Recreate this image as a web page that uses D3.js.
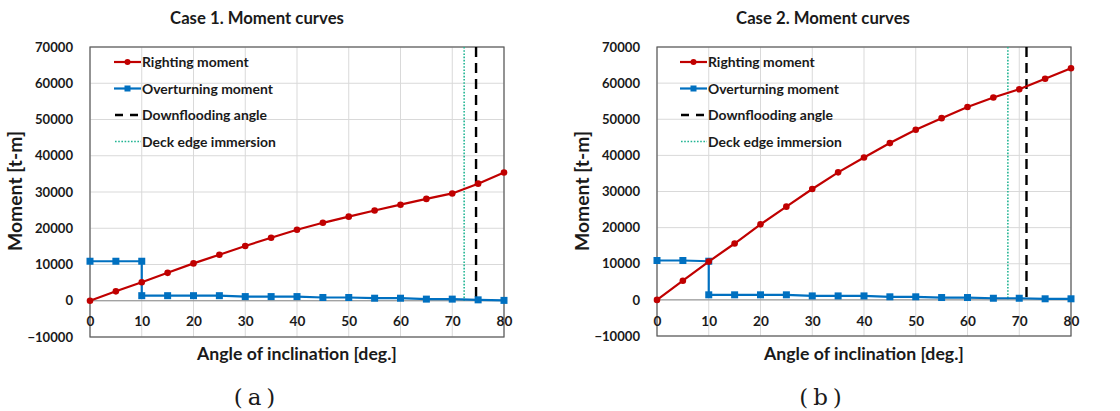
<!DOCTYPE html>
<html><head><meta charset="utf-8">
<script src="https://d3js.org/d3.v7.min.js"></script>
<style>body{margin:0;background:#fff}svg{display:block}</style>
</head><body>
<svg id="c" width="1120" height="411"></svg>
<script>
const angles = [0,5,10,15,20,25,30,35,40,45,50,55,60,65,70,75,80];
const overAngles = [0,5,10,10,15,20,25,30,35,40,45,50,55,60,65,70,75,80];
const righting1 = [0,2600,5100,7700,10300,12700,15100,17400,19600,21500,23200,24900,26500,28100,29600,32300,35400];
const overturning1 = [10900,10900,10900,1400,1400,1400,1400,1150,1150,1150,900,900,700,700,450,450,250,100];
const righting2 = [0,5300,10600,15600,20900,25800,30700,35300,39400,43400,47100,50300,53400,56000,58300,61200,64100];
const overturning2 = [10900,10900,10700,1400,1400,1400,1400,1100,1100,1100,850,850,650,650,450,450,300,300];
const downflooding = [74.6, 71.4];
const deckEdge = [72.3, 67.8];
const titles = ["Case 1. Moment curves","Case 2. Moment curves"];
const subLabels = ["(a)","(b)"];
const legendLabels = ["Righting moment","Overturning moment","Downflooding angle","Deck edge immersion"];
const xTicks = [0,10,20,30,40,50,60,70,80];
const yTicks = [-10000,0,10000,20000,30000,40000,50000,60000,70000];

const RED="#c00000", BLUE="#0070c0", GREEN="#22b593";
const FONT="Lato, 'Open Sans', sans-serif";
const svg = d3.select("#c");

function fitSize(str, family, weight, target, extra){
  const t = svg.append("text").attr("font-family",family).attr("font-weight",weight)
    .attr("font-size",20).attr("letter-spacing",extra||0).text(str);
  const w = t.node().getComputedTextLength();
  t.remove();
  return 20*target/w;
}
const tickSize = Math.min(14, fitSize("70000",FONT,"bold",38));
const legSize = fitSize("Overturning moment",FONT,"bold",131);
const titleSize = fitSize("Case 1. Moment curves",FONT,"bold",174);
const xTitleSize = fitSize("Angle of inclination [deg.]",FONT,"bold",200);
const yTitleSize = fitSize("Moment [t-m]",FONT,"bold",120);

const panels = [
  {left:90, right:504, top:47, bottom:337, ylabX:22, r:righting1, o:overturning1, df:downflooding[0], de:deckEdge[0], title:titles[0], sub:subLabels[0], legX:114, cx:257},
  {left:657, right:1071, top:47, bottom:336, ylabX:589, r:righting2, o:overturning2, df:downflooding[1], de:deckEdge[1], title:titles[1], sub:subLabels[1], legX:680, cx:823}
];

panels.forEach(p=>{
  const g = svg.append("g");
  const x = d3.scaleLinear().domain([0,80]).range([p.left,p.right]);
  const y = d3.scaleLinear().domain([-10000,70000]).range([p.bottom,p.top]);
  g.append("g").selectAll("line").data(yTicks).join("line")
    .attr("x1",p.left).attr("x2",p.right).attr("y1",d=>y(d)).attr("y2",d=>y(d))
    .attr("stroke","#d9d9d9").attr("stroke-width",1);
  g.append("g").selectAll("line").data(xTicks).join("line")
    .attr("x1",d=>x(d)).attr("x2",d=>x(d)).attr("y1",p.top).attr("y2",p.bottom)
    .attr("stroke","#d9d9d9").attr("stroke-width",1);
  g.append("line").attr("x1",p.left).attr("x2",p.right).attr("y1",y(0)).attr("y2",y(0))
    .attr("stroke","#8c8c8c").attr("stroke-width",1);
  g.append("rect").attr("x",p.left).attr("y",p.top).attr("width",p.right-p.left).attr("height",p.bottom-p.top)
    .attr("fill","none").attr("stroke","#595959").attr("stroke-width",1.2);
  const ya = d3.axisLeft(y).tickValues(yTicks).tickSize(0).tickPadding(17).tickFormat(d3.format("d"));
  const yg = g.append("g").attr("transform",`translate(${p.left},0)`).call(ya);
  yg.select(".domain").remove();
  yg.selectAll("text").attr("font-family",FONT).attr("font-weight","bold").attr("font-size",tickSize).attr("fill","#1a1a1a");
  const xa = d3.axisBottom(x).tickValues(xTicks).tickSize(0).tickPadding(16).tickFormat(d3.format("d"));
  const xg = g.append("g").attr("transform",`translate(0,${y(0)})`).call(xa);
  xg.select(".domain").remove();
  xg.selectAll("text").attr("font-family",FONT).attr("font-weight","bold").attr("font-size",tickSize+0.5).attr("fill","#1a1a1a");
  g.append("line").attr("x1",x(p.de)).attr("x2",x(p.de)).attr("y1",y(70000)).attr("y2",y(0))
    .attr("stroke",GREEN).attr("stroke-width",1.6).attr("stroke-dasharray","1.6,1.6");
  g.append("line").attr("x1",x(p.df)).attr("x2",x(p.df)).attr("y1",y(70000)).attr("y2",y(0))
    .attr("stroke","#000").attr("stroke-width",2.4).attr("stroke-dasharray","10,6");
  const oData = overAngles.map((a,i)=>[a,p.o[i]]);
  g.append("path").datum(oData).attr("d",d3.line().x(d=>x(d[0])).y(d=>y(d[1])))
    .attr("fill","none").attr("stroke",BLUE).attr("stroke-width",2.2);
  g.append("g").selectAll("rect").data(oData).join("rect")
    .attr("x",d=>x(d[0])-3.5).attr("y",d=>y(d[1])-3.5).attr("width",7).attr("height",7).attr("fill",BLUE);
  const rData = angles.map((a,i)=>[a,p.r[i]]);
  g.append("path").datum(rData).attr("d",d3.line().x(d=>x(d[0])).y(d=>y(d[1])))
    .attr("fill","none").attr("stroke",RED).attr("stroke-width",2.2);
  g.append("g").selectAll("circle").data(rData).join("circle")
    .attr("cx",d=>x(d[0])).attr("cy",d=>y(d[1])).attr("r",3.3).attr("fill",RED);
  const rows=[62,88.5,115,141.5];
  const lx=p.legX, lw=27;
  rows.forEach((ry,i)=>{
    const lg=g.append("g");
    if(i===0){
      lg.append("line").attr("x1",lx).attr("x2",lx+lw).attr("y1",ry).attr("y2",ry).attr("stroke",RED).attr("stroke-width",2.2);
      lg.append("circle").attr("cx",lx+lw/2).attr("cy",ry).attr("r",3).attr("fill",RED);
    } else if(i===1){
      lg.append("line").attr("x1",lx).attr("x2",lx+lw).attr("y1",ry).attr("y2",ry).attr("stroke",BLUE).attr("stroke-width",2.2);
      lg.append("rect").attr("x",lx+lw/2-3).attr("y",ry-3).attr("width",6).attr("height",6).attr("fill",BLUE);
    } else if(i===2){
      lg.append("line").attr("x1",lx+1).attr("x2",lx+lw).attr("y1",ry).attr("y2",ry).attr("stroke","#000").attr("stroke-width",2.4).attr("stroke-dasharray","8,7");
    } else {
      lg.append("line").attr("x1",lx+1).attr("x2",lx+lw).attr("y1",ry).attr("y2",ry).attr("stroke",GREEN).attr("stroke-width",1.6).attr("stroke-dasharray","1.6,1.6");
    }
    lg.append("text").attr("x",lx+lw+1).attr("y",ry+legSize*0.36).text(legendLabels[i])
      .attr("font-family",FONT).attr("font-weight","bold").attr("font-size",legSize).attr("fill","#1a1a1a");
  });
  g.append("text").attr("x",p.cx).attr("y",24).attr("text-anchor","middle").text(p.title)
    .attr("font-family",FONT).attr("font-weight","bold").attr("font-size",titleSize).attr("fill","#1a1a1a");
  g.append("text").attr("x",(p.left+p.right)/2).attr("y",360).attr("text-anchor","middle").text("Angle of inclination [deg.]")
    .attr("font-family",FONT).attr("font-weight","bold").attr("font-size",xTitleSize).attr("fill","#1a1a1a");
  g.append("text").attr("transform",`translate(${p.ylabX},191) rotate(-90)`).attr("text-anchor","middle").text("Moment [t-m]")
    .attr("font-family",FONT).attr("font-weight","bold").attr("font-size",yTitleSize).attr("fill","#1a1a1a");
  g.append("text").attr("x",p.cx).attr("y",405).attr("text-anchor","middle").text(p.sub)
    .attr("font-family","'DejaVu Serif', serif").attr("font-size",23).attr("letter-spacing",5).attr("fill","#1a1a1a");
});
</script>
</body></html>
